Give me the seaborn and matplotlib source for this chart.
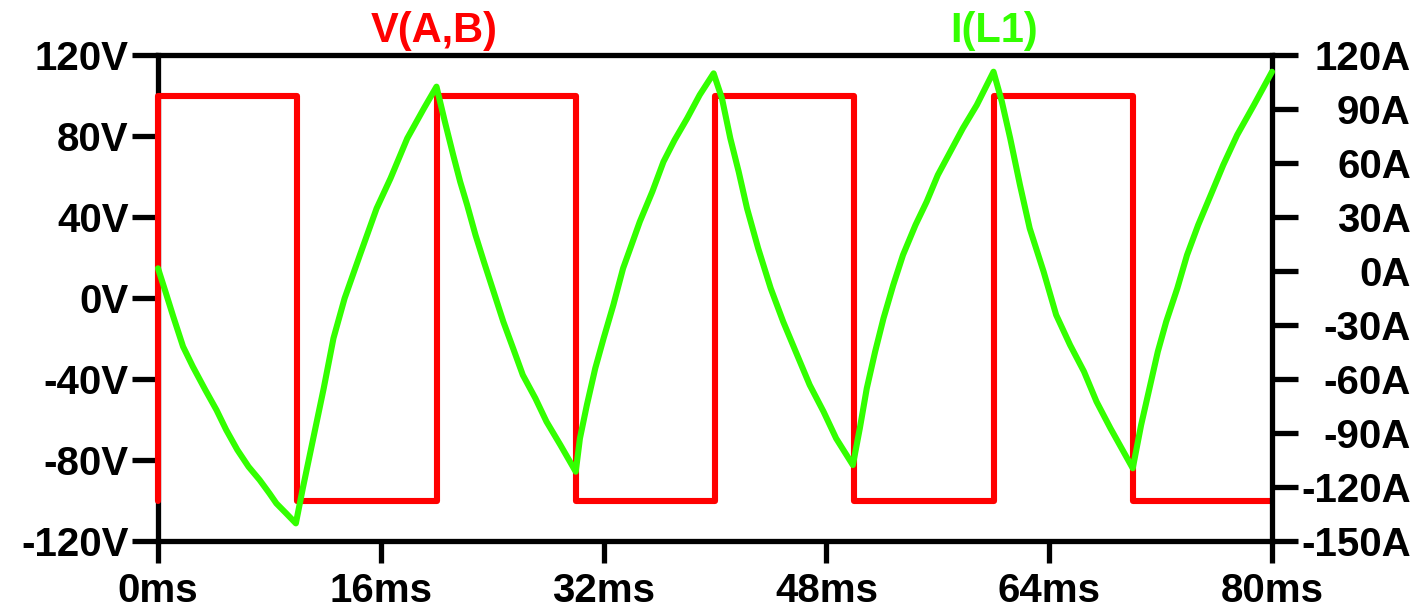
import matplotlib
matplotlib.use("Agg")

import matplotlib.pyplot as plt
import seaborn as sns

RED = "#ff0000"
GREEN = "#33ff00"

# V(A,B): square wave
VOLT_T = [0, 0, 10, 10, 20, 20, 30, 30, 40, 40, 50, 50, 60, 60, 70, 70, 80]
VOLT_V = [-100, 100, 100, -100, -100, 100, 100, -100, -100, 100, 100, -100, -100, 100, 100, -100, -100]

# I(L1): points (ms, A)
CUR_T = [
    0, 0.5, 1.1, 1.8, 2.5, 3.4, 4.2, 4.9, 5.7, 6.5, 7.3, 8.0, 8.5, 9.2, 9.9,
    10.4, 10.9, 11.4, 11.9, 12.6, 13.4, 14.5, 15.7, 16.7, 17.9, 19.1, 20.0,
    20.6, 21.2, 21.7, 22.2, 22.8, 23.4, 24.1, 24.8, 25.5, 26.2, 27.1, 27.9, 28.9, 30.0,
    30.3, 30.8, 31.4, 32.0, 32.7, 33.4, 34.0, 34.6, 35.5, 36.3, 37.1, 38.0, 38.9, 39.9,
    40.5, 41.1, 41.7, 42.3, 43.1, 44.0, 44.9, 45.9, 46.8, 47.8, 48.7, 49.9,
    50.4, 50.9, 51.5, 52.1, 52.8, 53.5, 54.4, 55.2, 56.0, 56.9, 57.8, 58.8, 60.0,
    60.6, 61.2, 61.9, 62.6, 63.6, 64.5, 65.5, 66.5, 67.4, 68.4, 70.0,
    70.6, 71.2, 71.8, 72.4, 73.2, 73.9, 74.7, 75.6, 76.5, 77.5, 78.7, 80.0,
]
CUR_I = [
    1.5, -10.6, -25.4, -42.0, -53.1, -66.1, -77.2, -88.3, -99.4, -108.7, -116.1, -123.5, -129.1, -134.6, -140.2,
    -120.7, -102.2, -83.7, -65.2, -37.4, -15.2, 8.9, 34.8, 51.5, 73.7, 90.4, 102.4,
    83.0, 64.4, 49.6, 36.7, 20.0, 5.2, -11.5, -28.2, -42.9, -57.8, -70.7, -83.7, -96.7, -111.5,
    -93.0, -74.4, -54.1, -37.4, -18.9, 1.5, 14.4, 27.4, 44.1, 60.7, 72.8, 84.8, 97.8, 109.8,
    95.9, 73.7, 55.2, 34.8, 12.6, -9.6, -28.2, -46.7, -63.3, -78.2, -93.0, -107.8,
    -87.4, -65.2, -44.8, -26.3, -7.8, 8.9, 25.6, 38.5, 53.3, 66.3, 79.3, 92.2, 110.7,
    94.1, 73.7, 47.8, 23.7, -0.4, -24.4, -41.1, -55.9, -72.6, -87.4, -109.6,
    -85.6, -65.2, -44.8, -28.2, -9.6, 8.9, 25.6, 42.2, 58.9, 75.6, 92.2, 110.7,
]

X_TICKS = [0, 16, 32, 48, 64, 80]
V_TICKS = [-120, -80, -40, 0, 40, 80, 120]
I_TICKS = [-150, -120, -90, -60, -30, 0, 30, 60, 90, 120]

W, H = 1426, 611
FS = 29


def main() -> None:
    sns.set_theme(style="ticks")
    plt.rcParams["font.family"] = ["Liberation Sans", "DejaVu Sans"]
    plt.rcParams["font.weight"] = "bold"

    fig = plt.figure(figsize=(W / 100, H / 100), dpi=100)
    ax = fig.add_axes([158 / W, 1 - 541 / H, 1114 / W, 486 / H])
    ax2 = ax.twinx()

    sns.lineplot(x=VOLT_T, y=VOLT_V, ax=ax, sort=False, estimator=None,
                 color=RED, linewidth=4.4)
    sns.lineplot(x=CUR_T, y=CUR_I, ax=ax2, sort=False, estimator=None,
                 color=GREEN, linewidth=4.4)
    for line in ax.lines + ax2.lines:
        line.set_clip_on(False)
        line.set_zorder(3)
        line.set_solid_joinstyle("round")

    ax.set_xlim(0, 80)
    ax.set_ylim(-120, 120)
    ax2.set_ylim(-150, 120)

    ax.set_xticks(X_TICKS, labels=[f"{t}ms" for t in X_TICKS])
    ax.set_yticks(V_TICKS, labels=[f"{v}V" for v in V_TICKS])
    ax2.set_yticks(I_TICKS, labels=[f"{i}A" for i in I_TICKS], ha="right")

    for a in (ax, ax2):
        a.set_xlabel("")
        a.set_ylabel("")
        for s in a.spines.values():
            s.set_color("black")
            s.set_linewidth(3.8)
    ax.spines["right"].set_visible(False)
    for side in ("left", "top", "bottom"):
        ax2.spines[side].set_visible(False)

    ax.tick_params(axis="x", length=16, width=3.8, color="black", pad=6,
                   labelsize=FS, labelcolor="black")
    ax.tick_params(axis="y", length=19, width=3.8, color="black", pad=2,
                   labelsize=FS, labelcolor="black")
    ax2.tick_params(axis="y", length=19, width=3.8, color="black", pad=81,
                    labelsize=FS, labelcolor="black")
    for lbl in ax.get_xticklabels() + ax.get_yticklabels() + ax2.get_yticklabels():
        lbl.set_fontweight("bold")

    ax.text((434 - 158) / 1114, 1.05, "V(A,B)", transform=ax.transAxes,
            ha="center", va="center", color=RED, fontsize=30, fontweight="bold")
    ax.text((994 - 158) / 1114, 1.05, "I(L1)", transform=ax.transAxes,
            ha="center", va="center", color=GREEN, fontsize=30, fontweight="bold")

    fig.savefig("out.png", dpi=100, facecolor="white")
    plt.close(fig)


if __name__ == "__main__":
    main()
